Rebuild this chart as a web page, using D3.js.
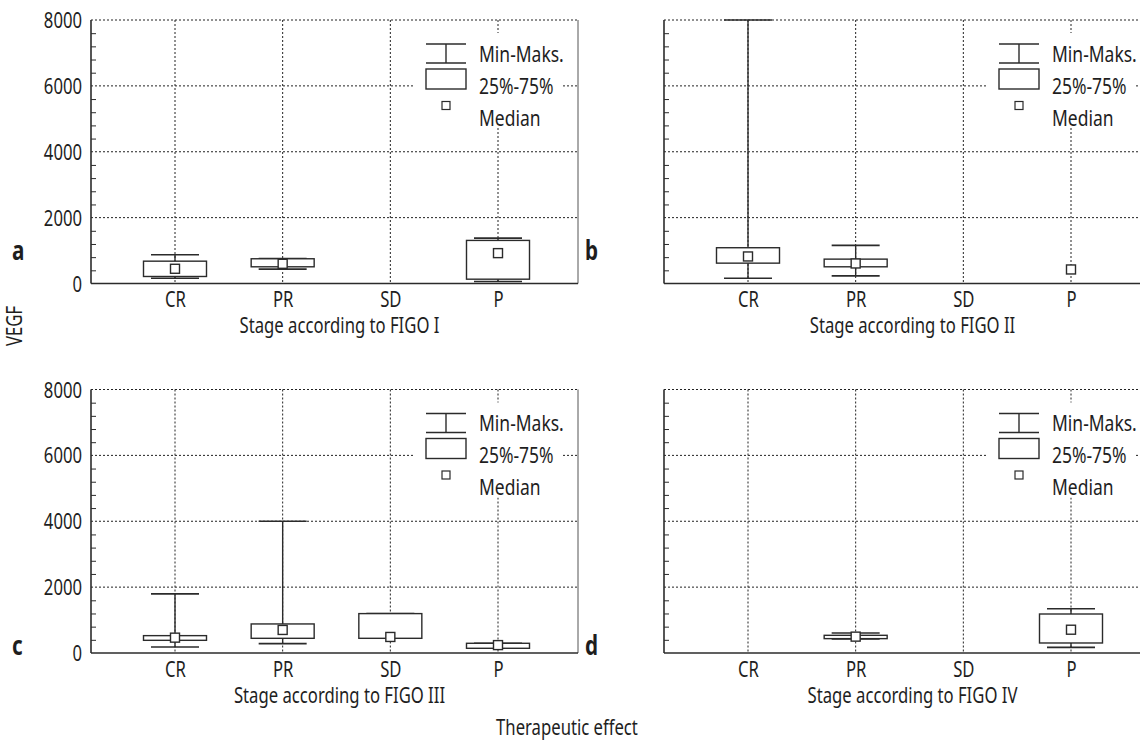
<!DOCTYPE html>
<html>
<head>
<meta charset="utf-8">
<script src="https://cdn.jsdelivr.net/npm/d3@7"></script>
<style>
  html, body { margin: 0; padding: 0; background: #fff; }
  svg { display: block; }
  text { font-family: "Noto Sans", "Open Sans", "Liberation Sans", sans-serif; fill: #1e1e1e; }
</style>
</head>
<body>
<svg id="chart" width="1140" height="741"></svg>
<script>
// ---- data ----
const categories = ["CR", "PR", "SD", "P"];
const panelLetters = ["a", "b", "c", "d"];
const stageTitles = ["Stage according to FIGO I", "Stage according to FIGO II",
                     "Stage according to FIGO III", "Stage according to FIGO IV"];
const yTicks = [0, 2000, 4000, 6000, 8000];
const legendLabels = ["Min-Maks.", "25%-75%", "Median"];
const yAxisTitle = "VEGF";
const xAxisTitle = "Therapeutic effect";

// per panel, per category (CR, PR, SD, P); null = no data
const minValues    = [[161, 435, null, 61],   [161, 233, null, null], [183, 284, 446, 172],  [null, 430, null, 170]];
const q1Values     = [[213, 507, null, 131],  [618, 507, null, null], [385, 446, 446, 143],  [null, 436, null, 304]];
const medianValues = [[447, 598, null, 922],  [821, 608, null, 426],  [466, 700, 487, 240],  [null, 497, null, 707]];
const q3Values     = [[678, 751, null, 1308], [1086, 740, null, null],[527, 882, 1196, 295], [null, 537, null, 1184]];
const maxValues    = [[873, 760, null, 1378], [8000, 1156, null, null],[1795, 4000, 1196, 295],[null, 608, null, 1345]];

// ---- layout ----
const panelLeft = [91, 664, 91, 664];
const panelTop = [20, 20, 389.5, 389.5];
const panelW = 487, panelH = 263.5;
const dark = "#2b2b2b";
const FS = 21;

const svg = d3.select("#chart");
svg.append("rect").attr("width", 1140).attr("height", 741).attr("fill", "#fff");

// condensed look: measure a sample and compute a horizontal squeeze
const probe = svg.append("text").attr("font-size", FS).text("Stage according to FIGO I");
const squeeze = Math.min(1, 200 / probe.node().getComputedTextLength());
probe.remove();

function condense(sel) {
  sel.each(function () {
    const t = d3.select(this);
    const x = +t.attr("x") || 0, y = +t.attr("y") || 0;
    t.attr("transform", `translate(${x},${y}) scale(${squeeze},1) translate(${-x},${-y})`);
  });
}

function drawPanel(i) {
  const x0 = panelLeft[i], y0 = panelTop[i];
  const g = svg.append("g");
  const y = d3.scaleLinear().domain([0, 8000]).range([y0 + panelH, y0]);
  const x = d3.scalePoint().domain(categories).range([x0 + 84, x0 + 407]);

  g.selectAll(".hg").data(yTicks.filter(d => d > 0)).join("line")
    .attr("x1", x0).attr("x2", x0 + panelW)
    .attr("y1", d => y(d)).attr("y2", d => y(d))
    .attr("stroke", "#222").attr("stroke-width", 1).attr("stroke-dasharray", "2,2");
  g.selectAll(".vg").data(categories).join("line")
    .attr("x1", d => x(d)).attr("x2", d => x(d))
    .attr("y1", y0).attr("y2", y0 + panelH)
    .attr("stroke", "#222").attr("stroke-width", 1).attr("stroke-dasharray", "2,2");
  g.append("line").attr("x1", x0 + panelW).attr("x2", x0 + panelW)
    .attr("y1", y0).attr("y2", y0 + panelH).attr("stroke", "#555").attr("stroke-width", 1);

  const minor = d3.range(400, 8000, 400).filter(v => v % 2000 !== 0);
  const minorAxis = g.append("g").attr("transform", `translate(${x0},0)`)
    .call(d3.axisLeft(y).tickValues(minor).tickSize(-5).tickFormat(""));
  minorAxis.select(".domain").remove();
  minorAxis.selectAll("line").attr("stroke", dark).attr("stroke-width", 1);

  if (i % 2 === 0) {
    const ya = g.append("g").attr("transform", `translate(${x0},0)`)
      .call(d3.axisLeft(y).tickValues(yTicks).tickSize(0).tickPadding(9).tickFormat(d3.format("d")));
    ya.select(".domain").remove();
    ya.attr("font-family", null);
    ya.selectAll("text").attr("font-size", FS).attr("dy", "0.36em").call(condense);
  }

  const xa = g.append("g").attr("transform", `translate(0,${y0 + panelH})`)
    .call(d3.axisBottom(x).tickSize(0).tickPadding(0));
  xa.select(".domain").remove();
  xa.attr("font-family", null);
  xa.selectAll("text").attr("font-size", FS).attr("dy", null).attr("y", 24).attr("x", 0).call(condense);

  g.append("line").attr("x1", x0).attr("x2", x0).attr("y1", y0).attr("y2", y0 + panelH)
    .attr("stroke", dark).attr("stroke-width", 1.6);
  g.append("line").attr("x1", x0).attr("x2", x0 + panelW).attr("y1", y0 + panelH).attr("y2", y0 + panelH)
    .attr("stroke", dark).attr("stroke-width", 1.6);

  g.append("text").attr("x", (x("CR") + x("P")) / 2 + 3).attr("y", y0 + panelH + 50)
    .attr("text-anchor", "middle").attr("font-size", FS).text(stageTitles[i]).call(condense);

  g.append("text").attr("x", x0 - 79).attr("y", i < 2 ? y0 + 240 : y0 + 265.5)
    .attr("font-size", 26).attr("font-weight", "bold").text(panelLetters[i]).call(condense);

  const lg = g.append("g");
  lg.append("rect").attr("x", x0 + 324).attr("y", y0 + 13).attr("width", 148).attr("height", 95).attr("fill", "#fff");
  const lx = x0 + 335, lw = 40;
  lg.append("line").attr("x1", lx).attr("x2", lx + lw).attr("y1", y0 + 24).attr("y2", y0 + 24).attr("stroke", dark).attr("stroke-width", 1.4);
  lg.append("line").attr("x1", lx).attr("x2", lx + lw).attr("y1", y0 + 43).attr("y2", y0 + 43).attr("stroke", dark).attr("stroke-width", 1.4);
  lg.append("line").attr("x1", lx + lw / 2).attr("x2", lx + lw / 2).attr("y1", y0 + 24).attr("y2", y0 + 43).attr("stroke", dark).attr("stroke-width", 1.4);
  lg.append("rect").attr("x", lx).attr("y", y0 + 49).attr("width", lw).attr("height", 20)
    .attr("fill", "#fff").attr("stroke", dark).attr("stroke-width", 1.4);
  lg.append("rect").attr("x", lx + lw / 2 - 4).attr("y", y0 + 81.5).attr("width", 8).attr("height", 8)
    .attr("fill", "#fff").attr("stroke", dark).attr("stroke-width", 1.2);
  lg.selectAll(".lt").data(legendLabels).join("text")
    .attr("x", x0 + 388).attr("y", (d, k) => y0 + 42 + k * 32)
    .attr("font-size", 22).text(d => d).call(condense);

  categories.forEach((c, k) => {
    const cx = x(c);
    const mn = minValues[i][k], mx = maxValues[i][k], q1 = q1Values[i][k], q3 = q3Values[i][k], md = medianValues[i][k];
    if (mn != null && mx != null) {
      g.append("line").attr("x1", cx).attr("x2", cx).attr("y1", y(mn)).attr("y2", y(mx))
        .attr("stroke", dark).attr("stroke-width", 1.4);
      [mn, mx].forEach(v => g.append("line").attr("x1", cx - 24).attr("x2", cx + 24)
        .attr("y1", y(v)).attr("y2", y(v)).attr("stroke", dark).attr("stroke-width", 1.6));
    }
    if (q1 != null && q3 != null) {
      g.append("rect").attr("x", cx - 31.5).attr("y", y(q3)).attr("width", 63).attr("height", y(q1) - y(q3))
        .attr("fill", "#fff").attr("stroke", dark).attr("stroke-width", 1.4);
    }
    if (md != null) {
      g.append("rect").attr("x", cx - 4.5).attr("y", y(md) - 4.5).attr("width", 9).attr("height", 9)
        .attr("fill", "#fff").attr("stroke", dark).attr("stroke-width", 1.4);
    }
  });
}

for (let i = 0; i < 4; i++) drawPanel(i);

svg.append("text").attr("transform", `translate(22,326) rotate(-90) scale(${squeeze},1)`)
  .attr("text-anchor", "middle").attr("font-size", FS).text(yAxisTitle);
svg.append("text").attr("x", 567).attr("y", 735)
  .attr("text-anchor", "middle").attr("font-size", FS).text(xAxisTitle).call(condense);
</script>
</body>
</html>
